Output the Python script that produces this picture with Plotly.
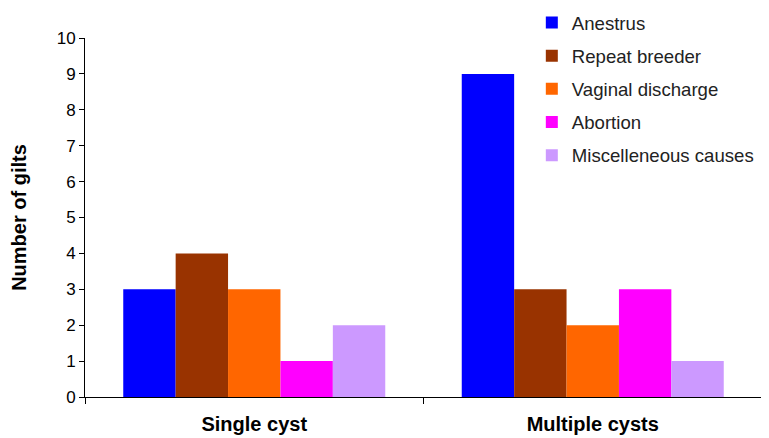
import plotly.graph_objects as go

categories = ["Single cyst", "Multiple cysts"]
series_names = ["Anestrus", "Repeat breeder", "Vaginal discharge", "Abortion", "Miscelleneous causes"]
anestrus = [3, 9]
repeat_breeder = [4, 3]
vaginal_discharge = [3, 2]
abortion = [1, 3]
misc_causes = [2, 1]
colors = ["#0000FF", "#993300", "#FF6600", "#FF00FF", "#CC99FF"]

values = [anestrus, repeat_breeder, vaginal_discharge, abortion, misc_causes]

fig = go.Figure()
for name, vals, col in zip(series_names, values, colors):
    fig.add_trace(go.Bar(x=categories, y=vals, name=name, marker=dict(color=col, line=dict(width=0)),
                         legendgroup=name))

fig.update_layout(
    width=761, height=430,
    margin=dict(l=77, r=7, t=30, b=41, autoexpand=False),
    paper_bgcolor="white", plot_bgcolor="white",
    barmode="group", bargap=0.226, bargroupgap=0,
    font=dict(family="Liberation Sans, Arial, sans-serif", color="black"),
    legend=dict(x=0.660, y=1.095, xanchor="left", yanchor="top",
                bgcolor="rgba(0,0,0,0)",
                font=dict(size=18.6, color="#222"), tracegroupgap=6, itemwidth=30),
    showlegend=True,
)
fig.update_xaxes(
    showline=True, linecolor="black", linewidth=1,
    ticks="outside", tickson="boundaries", ticklen=6, tickcolor="black",
    tickfont=dict(size=20, color="black"),
    tickprefix="<b>", ticksuffix="</b>",
    ticklabelstandoff=9, automargin=False,
)
fig.update_yaxes(
    range=[0, 10], dtick=1, showgrid=False, zeroline=False,
    showline=True, linecolor="black", linewidth=1,
    ticks="outside", ticklen=5, tickcolor="black",
    tickfont=dict(size=17), automargin=False,
    title=dict(text="<b>Number of gilts</b>", font=dict(size=20), standoff=25),
)
fig.write_html("out.html")
